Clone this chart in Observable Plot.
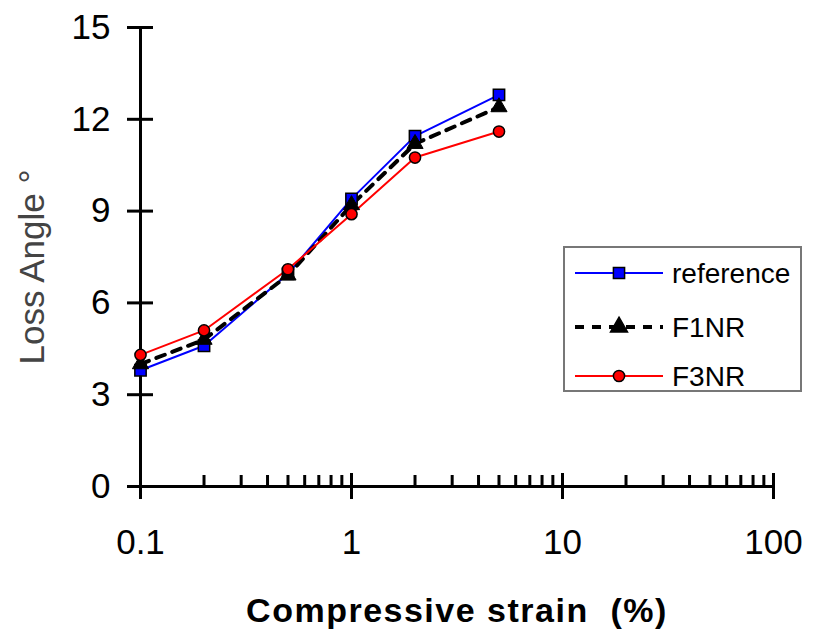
<!DOCTYPE html>
<html>
<head>
<meta charset="utf-8">
<script src="https://cdn.jsdelivr.net/npm/d3@7"></script>
<script src="https://cdn.jsdelivr.net/npm/@observablehq/plot@0.6"></script>
<style>
  html, body { margin: 0; padding: 0; background: #fff; }
  #wrap { position: relative; width: 813px; height: 634px; font-family: "Liberation Sans", Arial, sans-serif; }
  #legend { position: absolute; left: 563px; top: 246px; }
</style>
</head>
<body>
<div id="wrap"></div>
<script>
// ---- data ----
const strain = [0.1, 0.2, 0.5, 1, 2, 5];
const reference = [3.8, 4.6, 6.95, 9.4, 11.45, 12.8];
const f1nr = [4.0, 4.8, 6.9, 9.2, 11.2, 12.4];
const f3nr = [4.3, 5.1, 7.1, 8.9, 10.75, 11.6];
const seriesNames = ["reference", "F1NR", "F3NR"];
const xTicks = [0.1, 1, 10, 100];
const xTickLabels = ["0.1", "1", "10", "100"];
const xMinor = [0.2, 0.3, 0.4, 0.5, 0.6, 0.7, 0.8, 0.9, 2, 3, 4, 5, 6, 7, 8, 9, 20, 30, 40, 50, 60, 70, 80, 90];
const yTicks = [0, 3, 6, 9, 12, 15];
const xTitle = "Compressive strain  (%)";
const yTitle = "Loss Angle °";

const toRows = vals => strain.map((x, i) => ({x, y: vals[i]}));
const refRows = toRows(reference), f1Rows = toRows(f1nr), f3Rows = toRows(f3nr);

const W = 813, H = 634;
const chart = Plot.plot({
  width: W, height: H,
  marginLeft: 140, marginRight: 40, marginTop: 27, marginBottom: 148,
  style: {fontFamily: "'Liberation Sans', Arial, sans-serif", background: "#fff", color: "#000"},
  x: {type: "log", domain: [0.1, 100]},
  y: {domain: [0, 15]},
  marks: [
    Plot.axisX({ticks: xTicks, tickSize: 0, tickPadding: 43, tickFormat: d => xTickLabels[xTicks.indexOf(d)], fontSize: 35, label: null}),
    Plot.axisY({ticks: yTicks, tickSize: 0, tickPadding: 30, fontSize: 35, label: null}),
    // axis lines
    Plot.ruleY([0], {stroke: "#000", strokeWidth: 3}),
    Plot.ruleX([0.1], {stroke: "#000", strokeWidth: 3}),
    // ticks
    Plot.ruleX(xTicks, {x: d => d, y1: 0, y2: 0, insetTop: -13, insetBottom: -13, stroke: "#000", strokeWidth: 3}),
    Plot.ruleX(xMinor, {x: d => d, y1: 0, y2: 0, insetTop: -11, insetBottom: 0, stroke: "#000", strokeWidth: 3}),
    Plot.ruleY(yTicks, {y: d => d, x1: 0.1, x2: 0.1, insetLeft: -13, insetRight: -13, stroke: "#000", strokeWidth: 3}),
    // lines
    Plot.line(refRows, {x: "x", y: "y", stroke: "#0000ff", strokeWidth: 2}),
    Plot.line(f1Rows, {x: "x", y: "y", stroke: "#000", strokeWidth: 4, strokeDasharray: "9,8"}),
    Plot.line(f3Rows, {x: "x", y: "y", stroke: "#ff0000", strokeWidth: 2}),
    // markers
    Plot.dot(refRows, {x: "x", y: "y", symbol: "square", r: 6.4, fill: "#0000ff", stroke: "#000", strokeWidth: 1.5}),
    Plot.dot(f1Rows, {x: "x", y: "y", symbol: "triangle", r: 6, fill: "#000", stroke: "#000", strokeWidth: 1}),
    Plot.dot(f3Rows, {x: "x", y: "y", symbol: "circle", r: 5.6, fill: "#ff0000", stroke: "#000", strokeWidth: 1.5}),
    // titles
    Plot.text([xTitle], {frameAnchor: "bottom", dy: 125, text: d => d, fontSize: 34, fontWeight: "bold", fill: "#000", lineAnchor: "middle", textAnchor: "middle"}),
    Plot.text([yTitle], {frameAnchor: "left", dx: -108, dy: 10, rotate: -90, text: d => d, fontSize: 35, fill: "#444", lineAnchor: "middle", textAnchor: "middle"})
  ]
});
const wrap = document.getElementById("wrap");
wrap.appendChild(chart);
d3.select(chart).selectAll("text").filter(function() { return this.textContent === xTitle; })
  .style("letter-spacing", "1.5px");

// legend
const styles = [
  {stroke: "#0000ff", width: 2, dash: null, sym: "square", fill: "#0000ff"},
  {stroke: "#000", width: 4, dash: "9,8", sym: "triangle", fill: "#000"},
  {stroke: "#ff0000", width: 2, dash: null, sym: "circle", fill: "#ff0000"}
];
const lg = d3.select(wrap).append("svg").attr("id", "legend").attr("width", 239).attr("height", 146);
lg.append("rect").attr("x", 1).attr("y", 1).attr("width", 237).attr("height", 144).attr("fill", "#fff").attr("stroke", "#777").attr("stroke-width", 2);
const rowY = [27, 81, 130];
seriesNames.forEach((name, i) => {
  const s = styles[i];
  const g = lg.append("g").attr("transform", `translate(0,${rowY[i]})`);
  g.append("line").attr("x1", 12).attr("x2", 100).attr("y1", 0).attr("y2", 0)
    .attr("stroke", s.stroke).attr("stroke-width", s.width).attr("stroke-dasharray", s.dash);
  const symType = {square: d3.symbolSquare, triangle: d3.symbolTriangle, circle: d3.symbolCircle}[s.sym];
  const r = s.sym === "circle" ? 5.6 : 6.3;
  g.append("path").attr("transform", "translate(56,0)").attr("d", d3.symbol(symType, Math.PI * r * r)())
    .attr("fill", s.fill).attr("stroke", "#000").attr("stroke-width", 1.5);
  g.append("text").attr("x", 109).attr("y", 0).attr("dy", "0.36em").attr("font-size", 28)
    .attr("font-family", "'Liberation Sans', Arial, sans-serif").text(name);
});
</script>
</body>
</html>
